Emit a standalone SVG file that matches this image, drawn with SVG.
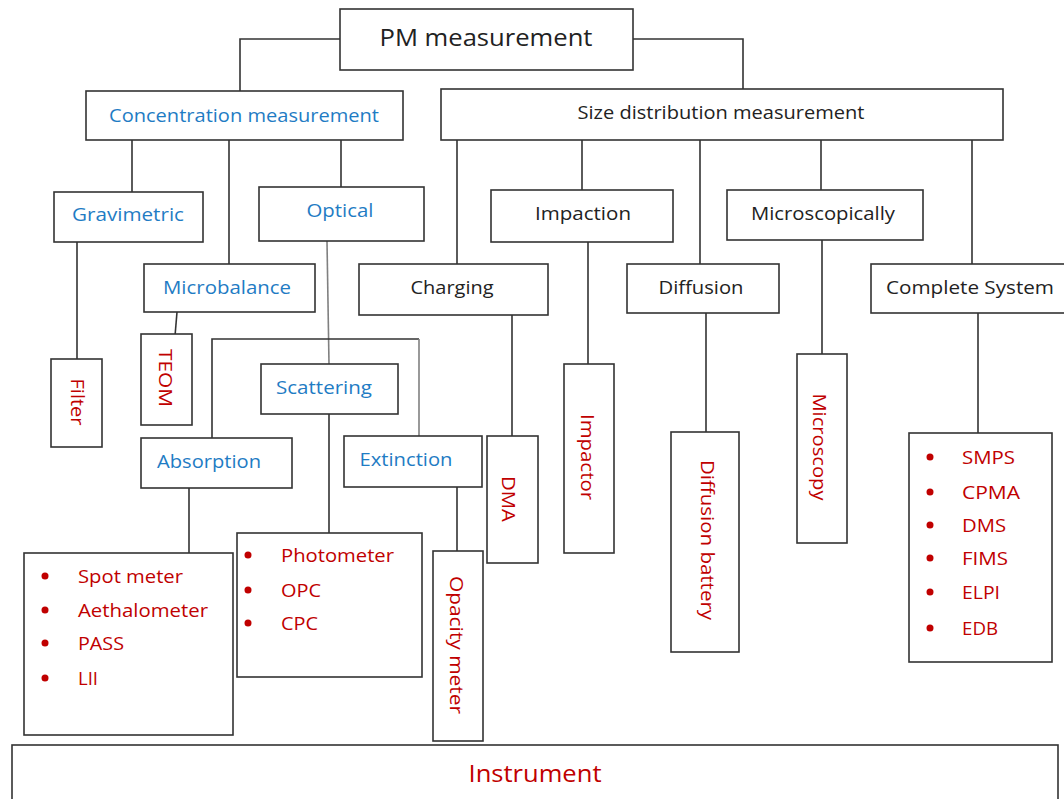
<svg xmlns="http://www.w3.org/2000/svg" width="1064" height="799" viewBox="0 0 1064 799">
<style>
.box{fill:#fff;stroke:#333;stroke-width:1.6}
.ln{fill:none;stroke:#333;stroke-width:1.6}
.lg{fill:none;stroke:#808080;stroke-width:1.6}
text{font-family:"Open Sans","Liberation Sans",sans-serif;font-size:19px}
.b{fill:#1f7cc4;text-anchor:middle;dominant-baseline:central}
.k{fill:#222;text-anchor:middle;dominant-baseline:central}
.r{fill:#c00000;text-anchor:middle;dominant-baseline:central}
.rl{fill:#c00000;dominant-baseline:central}
.dot{fill:#c00000}
</style>
<rect width="1064" height="799" fill="#fff"/>
<g id="connectors">
<path class="ln" d="M340 39 H240 V92"/>
<path class="ln" d="M633 39 H743 V90"/>
<path class="ln" d="M132 140 V192"/>
<path class="ln" d="M229 140 V264"/>
<path class="ln" d="M341 140 V187"/>
<path class="ln" d="M77 242 V359"/>
<path class="ln" d="M177 312 L175 336"/>
<path class="lg" d="M327 241 L329 364"/>
<path class="ln" d="M212 438 V339 H419"/>
<path class="lg" d="M419 339 V436"/>
<path class="ln" d="M329 414 V533"/>
<path class="ln" d="M189 488 V553"/>
<path class="ln" d="M457 487 V551"/>
<path class="ln" d="M457 140 V264"/>
<path class="ln" d="M512 315 V436"/>
<path class="ln" d="M582 140 V190"/>
<path class="ln" d="M588 242 V364"/>
<path class="ln" d="M700 140 V264"/>
<path class="ln" d="M706 313 V432"/>
<path class="ln" d="M821 140 V190"/>
<path class="ln" d="M822 237 V354"/>
<path class="ln" d="M972 140 V264"/>
<path class="ln" d="M978 313 V433"/>
</g>
<g id="pm"><rect class="box" x="340" y="9" width="293" height="61"/><text class="k" x="486" y="36" style="font-size:24px" textLength="213" lengthAdjust="spacingAndGlyphs">PM measurement</text></g>
<g id="concentration"><rect class="box" x="86" y="91" width="317" height="49"/><text class="b" x="244" y="115" textLength="270" lengthAdjust="spacingAndGlyphs">Concentration measurement</text></g>
<g id="size"><rect class="box" x="441" y="89" width="562" height="51"/><text class="k" x="721" y="112" textLength="287" lengthAdjust="spacingAndGlyphs">Size distribution measurement</text></g>
<g id="gravimetric"><rect class="box" x="54" y="192" width="149" height="50"/><text class="b" x="128" y="214" textLength="112" lengthAdjust="spacingAndGlyphs">Gravimetric</text></g>
<g id="optical"><rect class="box" x="259" y="187" width="165" height="54"/><text class="b" x="340" y="210" textLength="67" lengthAdjust="spacingAndGlyphs">Optical</text></g>
<g id="microbalance"><rect class="box" x="144" y="264" width="171" height="48"/><text class="b" x="227" y="287" textLength="128" lengthAdjust="spacingAndGlyphs">Microbalance</text></g>
<g id="filter"><rect class="box" x="51" y="359" width="51" height="88"/><text class="r" transform="translate(78 402) rotate(90)" textLength="47" lengthAdjust="spacingAndGlyphs">Filter</text></g>
<g id="teom"><rect class="box" x="141" y="334" width="51" height="91"/><text class="r" transform="translate(166 378) rotate(90)" textLength="58" lengthAdjust="spacingAndGlyphs">TEOM</text></g>
<g id="scattering"><rect class="box" x="261" y="364" width="137" height="50"/><text class="b" x="324" y="387" textLength="96" lengthAdjust="spacingAndGlyphs">Scattering</text></g>
<g id="absorption"><rect class="box" x="141" y="438" width="151" height="50"/><text class="b" x="209" y="461" textLength="104" lengthAdjust="spacingAndGlyphs">Absorption</text></g>
<g id="extinction"><rect class="box" x="344" y="436" width="138" height="51"/><text class="b" x="406" y="459" textLength="93" lengthAdjust="spacingAndGlyphs">Extinction</text></g>
<g id="absorption-instruments"><rect class="box" x="24" y="553" width="209" height="182"/>
<circle class="dot" cx="45" cy="576" r="3.5"/><text class="rl" x="78" y="576" textLength="105" lengthAdjust="spacingAndGlyphs">Spot meter</text>
<circle class="dot" cx="45" cy="610" r="3.5"/><text class="rl" x="78" y="610" textLength="130" lengthAdjust="spacingAndGlyphs">Aethalometer</text>
<circle class="dot" cx="45" cy="643" r="3.5"/><text class="rl" x="78" y="643" textLength="46" lengthAdjust="spacingAndGlyphs">PASS</text>
<circle class="dot" cx="45" cy="678" r="3.5"/><text class="rl" x="78" y="678" textLength="20" lengthAdjust="spacingAndGlyphs">LII</text></g>
<g id="scattering-instruments"><rect class="box" x="237" y="533" width="185" height="144"/>
<circle class="dot" cx="248" cy="555" r="3.5"/><text class="rl" x="281" y="555" textLength="113" lengthAdjust="spacingAndGlyphs">Photometer</text>
<circle class="dot" cx="248" cy="590" r="3.5"/><text class="rl" x="281" y="590" textLength="40" lengthAdjust="spacingAndGlyphs">OPC</text>
<circle class="dot" cx="248" cy="623" r="3.5"/><text class="rl" x="281" y="623" textLength="37" lengthAdjust="spacingAndGlyphs">CPC</text></g>
<g id="opacity"><rect class="box" x="433" y="551" width="50" height="190"/><text class="r" transform="translate(457 645) rotate(90)" textLength="138" lengthAdjust="spacingAndGlyphs">Opacity meter</text></g>
<g id="charging"><rect class="box" x="359" y="264" width="189" height="51"/><text class="k" x="452" y="287" textLength="83" lengthAdjust="spacingAndGlyphs">Charging</text></g>
<g id="dma"><rect class="box" x="487" y="436" width="51" height="127"/><text class="r" transform="translate(509 499) rotate(90)" textLength="46" lengthAdjust="spacingAndGlyphs">DMA</text></g>
<g id="impaction"><rect class="box" x="491" y="190" width="182" height="52"/><text class="k" x="583" y="213" textLength="96" lengthAdjust="spacingAndGlyphs">Impaction</text></g>
<g id="impactor"><rect class="box" x="564" y="364" width="50" height="189"/><text class="r" transform="translate(588 457) rotate(90)" textLength="86" lengthAdjust="spacingAndGlyphs">Impactor</text></g>
<g id="diffusion"><rect class="box" x="627" y="264" width="152" height="49"/><text class="k" x="701" y="287" textLength="85" lengthAdjust="spacingAndGlyphs">Diffusion</text></g>
<g id="diffusion-battery"><rect class="box" x="671" y="432" width="68" height="220"/><text class="r" transform="translate(708 540) rotate(90)" textLength="160" lengthAdjust="spacingAndGlyphs">Diffusion battery</text></g>
<g id="microscopically"><rect class="box" x="727" y="190" width="196" height="50"/><text class="k" x="823" y="213" textLength="144" lengthAdjust="spacingAndGlyphs">Microscopically</text></g>
<g id="microscopy"><rect class="box" x="797" y="354" width="50" height="189"/><text class="r" transform="translate(820 447) rotate(90)" textLength="107" lengthAdjust="spacingAndGlyphs">Microscopy</text></g>
<g id="complete"><rect class="box" x="871" y="264" width="200" height="49"/><text class="k" x="970" y="287" textLength="168" lengthAdjust="spacingAndGlyphs">Complete System</text></g>
<g id="complete-instruments"><rect class="box" x="909" y="433" width="143" height="229"/>
<circle class="dot" cx="930" cy="457" r="3.5"/><text class="rl" x="962" y="457" textLength="53" lengthAdjust="spacingAndGlyphs">SMPS</text>
<circle class="dot" cx="930" cy="492" r="3.5"/><text class="rl" x="962" y="492" textLength="58" lengthAdjust="spacingAndGlyphs">CPMA</text>
<circle class="dot" cx="930" cy="525" r="3.5"/><text class="rl" x="962" y="525" textLength="44" lengthAdjust="spacingAndGlyphs">DMS</text>
<circle class="dot" cx="930" cy="558" r="3.5"/><text class="rl" x="962" y="558" textLength="46" lengthAdjust="spacingAndGlyphs">FIMS</text>
<circle class="dot" cx="930" cy="592" r="3.5"/><text class="rl" x="962" y="592" textLength="38" lengthAdjust="spacingAndGlyphs">ELPI</text>
<circle class="dot" cx="930" cy="628" r="3.5"/><text class="rl" x="962" y="628" textLength="36" lengthAdjust="spacingAndGlyphs">EDB</text></g>
<g id="instrument"><rect class="box" x="12" y="745" width="1046" height="70"/><text class="r" x="535" y="772" style="font-size:24px" textLength="133" lengthAdjust="spacingAndGlyphs">Instrument</text></g>
</svg>
